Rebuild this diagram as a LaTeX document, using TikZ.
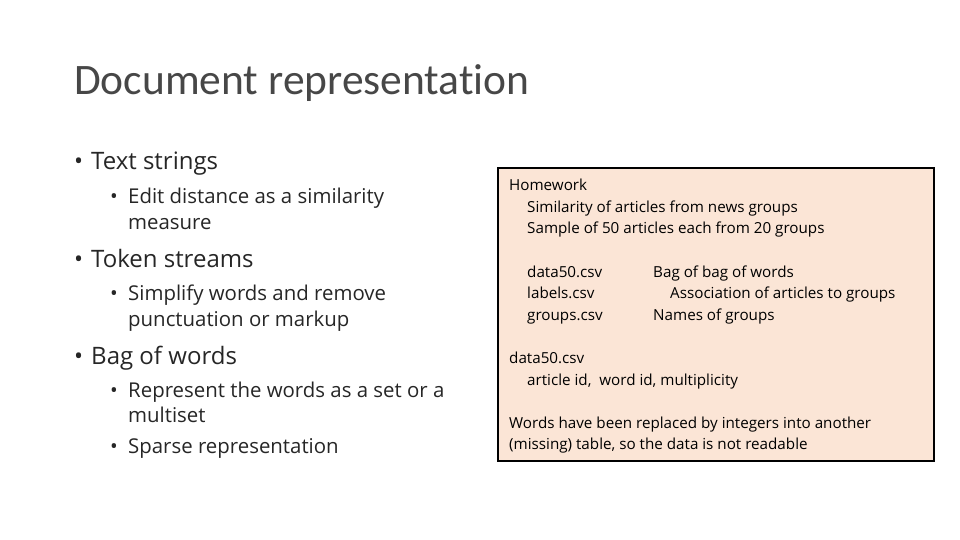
\documentclass[tikz,border=0pt]{standalone}
\usepackage{fontspec}
\setmainfont{Open Sans}
\newfontfamily\ttlfont[Ligatures=NoCommon]{Carlito}
\definecolor{peach}{HTML}{FBE5D6}
\definecolor{txt}{HTML}{262626}
\begin{document}
\begin{tikzpicture}[x=1pt,y=-1pt,
  t/.style={anchor=base west,inner sep=0pt,text=txt},
  ttl/.style={t,font=\ttlfont\fontsize{43.5}{50}\selectfont,text=txt!85},
  b1/.style={t,font=\fontsize{24}{28}\selectfont},
  b2/.style={t,font=\fontsize{20.4}{24}\selectfont},
  bx/.style={t,font=\fontsize{15.2}{19}\selectfont,text=black}]
\useasboundingbox (0,0) rectangle (960,540);
\node[ttl] (title) at (74,95) {Document representation};
\node[b1] (a0) at (74,170) {•};
\node[b1] (a) at (91,170) {Text strings};
\node[b2] (a10) at (110,203) {•};
\node[b2] (a1) at (128,203) {Edit distance as a similarity};
\node[b2] (a2) at (128,229) {measure};
\node[b1] (b0) at (74,267) {•};
\node[b1] (b) at (91,267) {Token streams};
\node[b2] (b10) at (110,300) {•};
\node[b2] (b1n) at (128,300) {Simplify words and remove};
\node[b2] (b2n) at (128,326) {punctuation or markup};
\node[b1] (c0) at (74,364) {•};
\node[b1] (c) at (91,364) {Bag of words};
\node[b2] (c10) at (110,397) {•};
\node[b2] (c1) at (128,397) {Represent the words as a set or a};
\node[b2] (c2) at (128,422) {multiset};
\node[b2] (c30) at (110,453) {•};
\node[b2] (c3) at (128,453) {Sparse representation};
\draw[fill=peach,line width=2pt] (498,168) rectangle (934,461);
\node[bx] (h) at (509,190) {Homework};
\node[bx] (h1) at (527,212) {Similarity of articles from news groups};
\node[bx] (h2) at (527,233) {Sample of 50 articles each from 20 groups};
\node[bx] (f1) at (527,277) {data50.csv};
\node[bx] (f2) at (527,298) {labels.csv};
\node[bx] (f3) at (527,320) {groups.csv};
\node[bx] (d1) at (653,277) {Bag of bag of words};
\node[bx] (d2) at (670,298) {Association of articles to groups};
\node[bx] (d3) at (653,320) {Names of groups};
\node[bx] (g) at (509,363) {data50.csv};
\node[bx] (g1) at (527,385) {article id,\ \ word id, multiplicity};
\node[bx] (w1) at (509,428) {Words have been replaced by integers into another};
\node[bx] (w2) at (509,449) {(missing) table, so the data is not readable};
\end{tikzpicture}
\end{document}
